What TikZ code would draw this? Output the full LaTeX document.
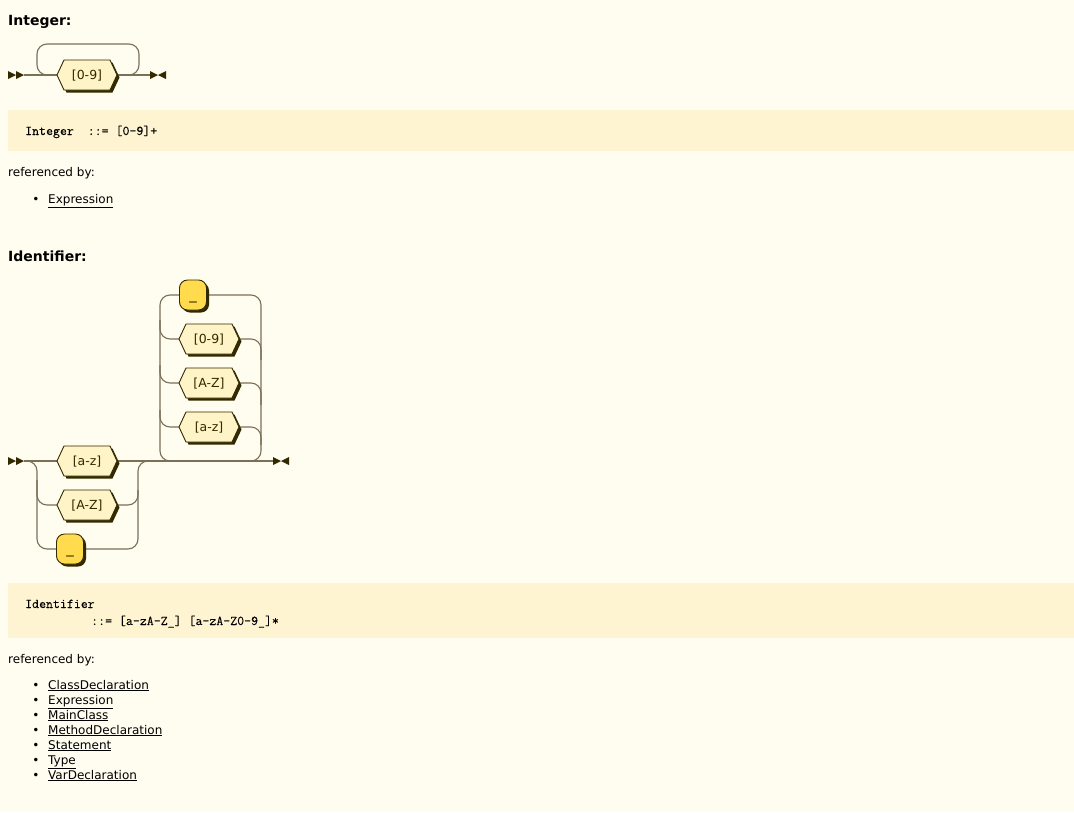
\documentclass[tikz,border=0pt]{standalone}
\usepackage{fontspec}
\setmainfont{DejaVu Sans}
\newfontfamily\codefont{Latin Modern Mono}[FakeBold=0.15]
\usetikzlibrary{shapes.symbols,shadows}
\definecolor{pagebg}{HTML}{FFFCF0}
\definecolor{codebg}{HTML}{FFF4D1}
\definecolor{hexfill}{HTML}{FFF4C7}
\definecolor{termfill}{HTML}{FFDB4D}
\definecolor{dk}{HTML}{332900}
\definecolor{linec}{HTML}{7A7058}
\begin{document}
\begin{tikzpicture}[x=1pt,y=-1pt,
  rr/.style={draw=linec, line width=1.1pt, rounded corners=10pt},
  shad/.style={drop shadow={shadow xshift=2.5pt, shadow yshift=-2.5pt, fill=dk, opacity=1}},
  hexr/.style={signal, signal to=east and west, signal pointer angle=130,
    draw=dk, fill=hexfill, line width=0.9pt, minimum width=60pt, minimum height=30pt,
    inner sep=0pt, text height=10pt, text depth=1pt, font=\fontsize{12.5}{14}\selectfont, text=dk, shad},
  termr/.style={rectangle, rounded corners=8pt, draw=dk, fill=termfill, line width=0.9pt,
    minimum width=27pt, minimum height=30pt, inner sep=0pt, text height=10pt, text depth=1pt,
    font=\fontsize{15}{16}\selectfont, text=dk, shad},
  head/.style={anchor=base west, inner sep=0pt, font=\fontsize{14}{17}\selectfont\bfseries},
  txt/.style={anchor=base west, inner sep=0pt, font=\fontsize{12}{15}\selectfont},
  code/.style={anchor=base west, inner sep=0pt, font=\fontsize{13.5}{16}\selectfont\codefont},
  bul/.style={anchor=base, inner sep=0pt, font=\fontsize{12}{15}\selectfont},
  arrowf/.style={fill=dk}
]
\useasboundingbox (0,0) rectangle (1074,812);
\fill[pagebg] (0,0) rectangle (1074,812);

% ---------- Integer ----------
\node[head] (hInt) at (8,25) {Integer:};
\coordinate (is) at (24,75);
\coordinate (ie) at (150,75);
\fill[arrowf] (8,71) -- (16,75) -- (8,79) -- cycle;
\fill[arrowf] (16,71) -- (24,75) -- (16,79) -- cycle;
\fill[arrowf] (150,71) -- (158,75) -- (150,79) -- cycle;
\fill[arrowf] (166,71) -- (158,75) -- (166,79) -- cycle;
\draw[rr] (is) -- (ie);
\draw[rr] (57,75) -- (37,75) -- (37,44) -- (139,44) -- (139,75) -- (117,75);
\node[hexr] (i09) at (87,75) {[0-9]};

\fill[codebg] (8,110) rectangle (1074,151);
\node[code] (cInt) at (25,135) {Integer\ \ ::= [0-9]+};
\node[txt] (rInt) at (8,176) {referenced by:};
\node[bul] (b0) at (36,203) {•};
\node[txt] (l0) at (48,203) {\underline{Expression}};

% ---------- Identifier ----------
\node[head] (hId) at (8,261) {Identifier:};
\coordinate (ids) at (24,461);
\coordinate (ide) at (273,461);
\fill[arrowf] (8,457) -- (16,461) -- (8,465) -- cycle;
\fill[arrowf] (16,457) -- (24,461) -- (16,465) -- cycle;
\fill[arrowf] (273,457) -- (281,461) -- (273,465) -- cycle;
\fill[arrowf] (289,457) -- (281,461) -- (289,465) -- cycle;

% first choice
\draw[rr] (ids) -- (ide);
\draw[rr] (ids) -- (37,461) -- (37,549) -- (60,549);
\draw[rr] (37,480) -- (37,505) -- (60,505);
\draw[rr] (80,549) -- (138,549) -- (138,461) -- (150,461);
\draw[rr] (115,505) -- (138,505) -- (138,490);

% loop
\draw[rr] (185,295) -- (160,295) -- (160,461) -- (175,461);
\draw[rr] (200,295) -- (261,295) -- (261,461) -- (245,461);
\draw[rr] (160,320) -- (160,339) -- (185,339);
\draw[rr] (160,365) -- (160,383) -- (185,383);
\draw[rr] (160,410) -- (160,427) -- (185,427);
\draw[rr] (235,339) -- (261,339) -- (261,360);
\draw[rr] (235,383) -- (261,383) -- (261,405);
\draw[rr] (235,427) -- (261,427) -- (261,445);

\node[hexr] (ca) at (87,461) {[a-z]};
\node[hexr] (cA) at (87,505) {[A-Z]};
\node[termr] (cu) at (70,549) {\_};
\node[termr] (lu) at (193,295) {\_};
\node[hexr] (l09) at (209,339) {[0-9]};
\node[hexr] (lA) at (209,383) {[A-Z]};
\node[hexr] (la) at (209,427) {[a-z]};

\fill[codebg] (8,583) rectangle (1074,638);
\node[code] (cId1) at (25,608) {Identifier};
\node[code] (cId2) at (91,625) {::= [a-zA-Z\_] [a-zA-Z0-9\_]*};
\node[txt] (rId) at (8,663) {referenced by:};
\foreach \t [count=\i] in {ClassDeclaration,Expression,MainClass,MethodDeclaration,Statement,Type,VarDeclaration}{
  \node[bul] (bb\i) at (36,674+15*\i) {•};
  \node[txt] (ll\i) at (48,674+15*\i) {\underline{\t}};
}
\end{tikzpicture}
\end{document}
